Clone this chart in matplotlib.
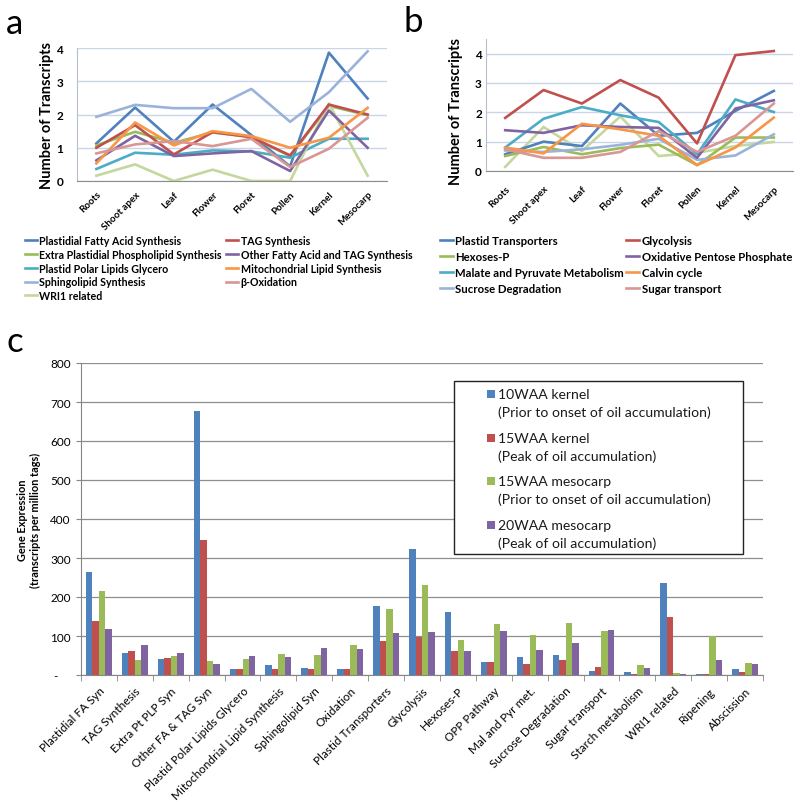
import matplotlib
matplotlib.use('Agg')
import matplotlib.pyplot as plt
from matplotlib.patches import Rectangle

plt.rcParams['font.family'] = ['Lato', 'DejaVu Sans']

W, H = 800, 803

def fx(px):
    return px / W

def fy(py):
    return 1 - py / H

# ---------------- data ----------------
tissues = ['Roots', 'Shoot apex', 'Leaf', 'Flower', 'Floret', 'Pollen', 'Kernel', 'Mesocarp']

# panel a
a_plastidial_fa = [1.13, 2.21, 1.18, 2.30, 1.38, 0.44, 3.86, 2.48]
a_tag = [1.00, 1.68, 0.80, 1.47, 1.32, 0.77, 2.30, 2.00]
a_extra_plastidial = [1.07, 1.48, 1.15, 1.46, 1.32, 0.75, 2.26, 1.98]
a_other_fa_tag = [0.62, 1.36, 0.75, 0.83, 0.90, 0.30, 2.12, 1.00]
a_plastid_polar = [0.36, 0.85, 0.79, 0.92, 0.89, 0.70, 1.27, 1.27]
a_mito = [0.53, 1.76, 1.07, 1.50, 1.35, 1.00, 1.30, 2.20]
a_sphingo = [1.93, 2.29, 2.19, 2.19, 2.77, 1.78, 2.67, 3.90]
a_beta_ox = [0.83, 1.10, 1.20, 1.05, 1.27, 0.42, 0.97, 1.90]
a_wri1 = [0.16, 0.50, 0.00, 0.34, 0.00, 0.00, 2.33, 0.16]

# panel b
b_plastid_transp = [0.57, 1.00, 0.85, 2.30, 1.20, 1.30, 2.05, 2.73]
b_glycolysis = [1.81, 2.76, 2.30, 3.10, 2.50, 0.94, 3.95, 4.09]
b_hexoses = [0.51, 0.82, 0.57, 0.78, 0.90, 0.20, 1.14, 1.14]
b_opp = [1.39, 1.30, 1.56, 1.50, 1.47, 0.45, 2.13, 2.41]
b_malate = [0.80, 1.78, 2.18, 1.90, 1.67, 0.57, 2.44, 2.01]
b_calvin = [0.80, 0.60, 1.61, 1.42, 1.20, 0.20, 0.80, 1.82]
b_sucrose = [0.70, 0.65, 0.74, 0.89, 1.10, 0.38, 0.53, 1.25]
b_sugar = [0.74, 0.45, 0.45, 0.65, 1.36, 0.65, 1.20, 2.30]
b_unlabeled = [0.14, 1.50, 0.68, 1.86, 0.51, 0.62, 0.85, 0.99]

# panel c
c_categories = ['Plastidial FA Syn', 'TAG Synthesis', 'Extra Pt PLP Syn', 'Other FA & TAG Syn',
                'Plastid Polar Lipids Glycero', 'Mitochondrial Lipid Synthesis', 'Sphingolipid Syn',
                'Oxidation', 'Plastid Transporters', 'Glycolysis', 'Hexoses-P', 'OPP Pathway',
                'Mal and Pyr met.', 'Sucrose Degradation', 'Sugar transport', 'Starch metabolism',
                'WRI1 related', 'Ripening', 'Abscission']
c_10waa_kernel = [265, 56, 42, 676, 15, 25, 17, 16, 178, 323, 162, 33, 46, 52, 9, 8, 235, 2, 15]
c_15waa_kernel = [138, 62, 44, 345, 15, 15, 15, 15, 88, 98, 62, 33, 29, 38, 20, 3, 149, 3, 7]
c_15waa_mesocarp = [215, 38, 48, 36, 40, 54, 51, 76, 169, 232, 91, 130, 103, 133, 113, 26, 5, 100, 31]
c_20waa_mesocarp = [117, 77, 56, 29, 49, 45, 70, 66, 107, 109, 62, 114, 65, 82, 115, 18, 3, 38, 28]
c_yticklabels = ['-', '100', '200', '300', '400', '500', '600', '700', '800']

blue, red, green, purple = '#4F81BD', '#C0504D', '#9BBB59', '#8064A2'
aqua, orange = '#4BACC6', '#F79646'
lblue, pink, lgreen = '#9BB3DA', '#D99694', '#C4D79E'

fig = plt.figure(figsize=(8, 8.03), dpi=100)

def style_line_ax(ax, ylim, pad_x, lab_x, lab_y):
    ax.set_xlim(-0.5, 7.5)
    ax.set_ylim(*ylim)
    ax.set_yticks([0, 1, 2, 3, 4])
    ax.set_xticks(range(len(tissues)))
    ax.set_xticklabels(tissues, fontsize=7, fontweight='bold')
    for t in ax.get_xticklabels():
        t.set_rotation(45)
        t.set_ha('right')
        t.set_va('top')
        t.set_rotation_mode('anchor')
    for t in ax.get_yticklabels():
        t.set_fontweight('bold')
    ax.tick_params(axis='x', length=0, pad=pad_x)
    ax.tick_params(axis='y', length=0, labelsize=8.5)
    for s in ['top', 'right']:
        ax.spines[s].set_visible(False)
    ax.spines['left'].set_color('#B8BFCC')
    ax.spines['bottom'].set_color('#8C8C8C')
    ax.yaxis.grid(True, color='#C9D6EA', lw=1)
    ax.set_axisbelow(True)
    ax.set_ylabel('Number of Transcripts', fontsize=10.5, fontweight='bold')
    ax.yaxis.set_label_coords(lab_x, lab_y)

# ---------------- panel a ----------------
ax_a = fig.add_axes([fx(77), fy(182), fx(310), 133 / H])
x = range(len(tissues))
lw = 1.9
la = [
    ax_a.plot(x, a_plastidial_fa, color=blue, lw=lw, label='Plastidial Fatty Acid Synthesis')[0],
    ax_a.plot(x, a_extra_plastidial, color=green, lw=lw, label='Extra Plastidial Phospholipid Synthesis')[0],
    ax_a.plot(x, a_plastid_polar, color=aqua, lw=lw, label='Plastid Polar Lipids Glycero')[0],
    ax_a.plot(x, a_sphingo, color=lblue, lw=lw, label='Sphingolipid Synthesis')[0],
    ax_a.plot(x, a_wri1, color=lgreen, lw=lw, label='WRI1 related')[0],
    ax_a.plot(x, a_tag, color=red, lw=lw, label='TAG Synthesis')[0],
    ax_a.plot(x, a_other_fa_tag, color=purple, lw=lw, label='Other Fatty Acid and TAG Synthesis')[0],
    ax_a.plot(x, a_mito, color=orange, lw=lw, label='Mitochondrial Lipid Synthesis')[0],
    ax_a.plot(x, a_beta_ox, color=pink, lw=lw, label='β-Oxidation')[0],
]
style_line_ax(ax_a, (0, 4), 6, -0.075, 0.5)
ax_a.tick_params(axis='y', pad=10)
fig.legend(handles=la, loc='upper left', bbox_to_anchor=(fx(25), fy(236)), ncol=2,
           frameon=False, prop={'weight': 'bold', 'size': 7.7}, handlelength=1.1,
           handletextpad=0.25, columnspacing=0.4, labelspacing=0.26, borderpad=0,
           borderaxespad=0)

# ---------------- panel b ----------------
ax_b = fig.add_axes([fx(486), fy(172), fx(307), 132 / H])
lb = [
    ax_b.plot(x, b_plastid_transp, color=blue, lw=lw, label='Plastid Transporters')[0],
    ax_b.plot(x, b_hexoses, color=green, lw=lw, label='Hexoses-P')[0],
    ax_b.plot(x, b_malate, color=aqua, lw=lw, label='Malate and Pyruvate Metabolism')[0],
    ax_b.plot(x, b_sucrose, color=lblue, lw=lw, label='Sucrose Degradation')[0],
    ax_b.plot(x, b_glycolysis, color=red, lw=lw, label='Glycolysis')[0],
    ax_b.plot(x, b_opp, color=purple, lw=lw, label='Oxidative Pentose Phosphate')[0],
    ax_b.plot(x, b_calvin, color=orange, lw=lw, label='Calvin cycle')[0],
    ax_b.plot(x, b_sugar, color=pink, lw=lw, label='Sugar transport')[0],
]
ax_b.plot(x, b_unlabeled, color=lgreen, lw=lw, zorder=1.9)
style_line_ax(ax_b, (0, 4.5), 9, -0.075, 0.46)
ax_b.tick_params(axis='y', pad=3)
fig.legend(handles=lb, loc='upper left', bbox_to_anchor=(fx(440), fy(236)), ncol=2,
           frameon=False, prop={'weight': 'bold', 'size': 8.2}, handlelength=1.1,
           handletextpad=0.25, columnspacing=0.2, labelspacing=0.45, borderpad=0,
           borderaxespad=0)

# ---------------- panel c ----------------
ax_c = fig.add_axes([fx(81), fy(676), fx(682), 312 / H])
xc = list(range(len(c_categories)))
bw = 0.18
series = [(c_10waa_kernel, blue), (c_15waa_kernel, red),
          (c_15waa_mesocarp, green), (c_20waa_mesocarp, purple)]
for i, (vals, col) in enumerate(series):
    ax_c.bar([v + (i - 1.5) * bw for v in xc], vals, width=bw, color=col, zorder=3)
ax_c.set_xlim(-0.5, len(c_categories) - 0.5)
ax_c.set_ylim(0, 800)
ax_c.set_yticks(range(0, 801, 100))
ax_c.set_yticklabels([l if l != '-' else '-    ' for l in c_yticklabels], fontsize=8.5)
ax_c.set_xticks(xc)
ax_c.set_xticklabels(c_categories, fontsize=8.5)
for t in ax_c.get_xticklabels():
    t.set_rotation(45)
    t.set_ha('right')
    t.set_va('top')
    t.set_rotation_mode('anchor')
ax_c.set_xticks([v - 0.5 for v in xc] + [len(xc) - 0.5], minor=True)
ax_c.tick_params(axis='x', which='major', length=0, pad=7)
ax_c.tick_params(axis='x', which='minor', length=4, color='#868686', direction='out')
ax_c.tick_params(axis='y', length=3.5, color='#868686', pad=4)
for s in ['top', 'right']:
    ax_c.spines[s].set_visible(False)
ax_c.spines['left'].set_color('#868686')
ax_c.spines['bottom'].set_color('#868686')
ax_c.yaxis.grid(True, color='#8E8E8E', lw=0.9)
ax_c.set_axisbelow(True)
ax_c.set_ylabel('Gene Expression\n(transcripts per million tags)', fontsize=7.9,
                fontweight='bold', linespacing=1.25)
ax_c.yaxis.set_label_coords(-0.058, 0.5)

# legend c (drawn manually, Excel-like layout)
fig.add_artist(Rectangle((fx(454), fy(555)), fx(743) - fx(454), fy(382) - fy(555),
                         transform=fig.transFigure, facecolor='white', edgecolor='#222222',
                         lw=1.0, zorder=5))
leg_labels = [('10WAA kernel', '(Prior to onset of oil accumulation)'),
              ('15WAA kernel', '(Peak of oil accumulation)'),
              ('15WAA mesocarp', '(Prior to onset of oil accumulation)'),
              ('20WAA mesocarp', '(Peak of oil accumulation)')]
row_y = [395, 439, 482, 526]
for (l1, l2), (_, col), yy in zip(leg_labels, series, row_y):
    fig.add_artist(Rectangle((fx(487), fy(yy + 4)), fx(8), 8 / H, transform=fig.transFigure,
                             facecolor=col, edgecolor='none', zorder=6))
    fig.text(fx(498), fy(yy), l1, fontsize=10.1, va='center', ha='left', zorder=7, color='#1a1a1a')
    fig.text(fx(498), fy(yy + 18), l2, fontsize=10.1, va='center', ha='left', zorder=7, color='#1a1a1a')

# panel letters
fig.text(fx(6), fy(34), 'a', fontsize=25)
fig.text(fx(404), fy(32), 'b', fontsize=25)
fig.text(fx(6), fy(352), 'c', fontsize=25)

fig.savefig('out.png', dpi=100)
